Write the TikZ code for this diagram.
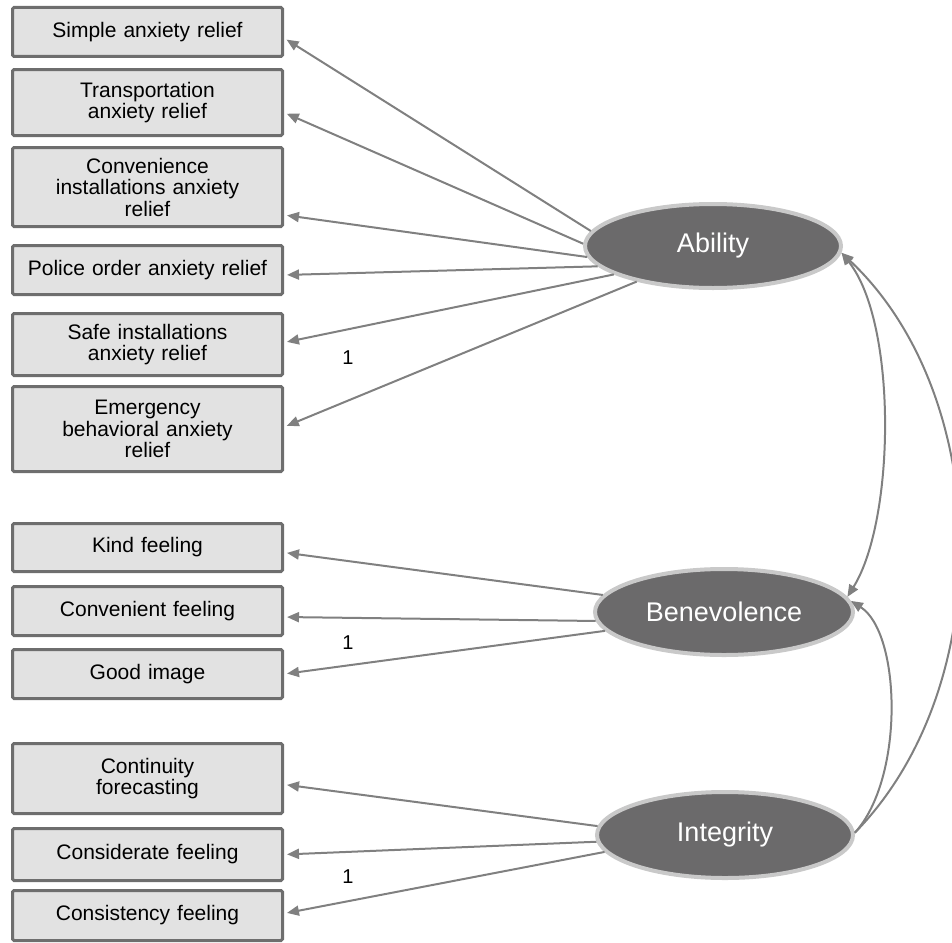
\documentclass[tikz,border=0pt]{standalone}
\usepackage{fontspec}
\setmainfont{Liberation Sans}
\usetikzlibrary{arrows.meta, positioning, shapes.geometric}
\definecolor{boxfill}{HTML}{E2E2E2}
\definecolor{boxline}{HTML}{6E6E6E}
\definecolor{factorfill}{HTML}{6B6A6B}
\definecolor{factorring}{HTML}{C9C9C9}
\definecolor{pathgray}{HTML}{808080}

\begin{document}
\begin{tikzpicture}[
    x=1pt, y=-1pt,
    >={Triangle[length=12pt, width=10pt]},
    itembox/.style={
        draw=boxline, line width=3pt, rounded corners=1.5pt,
        fill=boxfill, minimum width=270pt, text width=255pt,
        align=center, inner sep=0pt,
        font=\fontsize{21}{21.5}\selectfont
    },
    factor/.style={
        ellipse, draw=factorring, line width=4pt, fill=factorfill,
        minimum width=256pt, minimum height=84pt, inner sep=0pt,
        text=white, font=\fontsize{27}{30}\selectfont
    },
    loading/.style={->, line width=2pt, pathgray, shorten >=3pt},
    covar/.style={line width=2pt, pathgray},
    onelabel/.style={font=\fontsize{20}{22}\selectfont},
]
\useasboundingbox (0,0) rectangle (952,942);

% === Ability indicators ===
\node[itembox, minimum height=49pt] (simple) at (147.5,32) {Simple anxiety relief};
\node[itembox, minimum height=66pt, below=10pt of simple] (transport) {Transportation\\anxiety relief};
\node[itembox, minimum height=79pt, below=9pt of transport] (conven) {Convenience\\installations anxiety\\relief};
\node[itembox, minimum height=49pt, below=16pt of conven] (police) {Police order anxiety relief};
\node[itembox, minimum height=62pt, below=16pt of police] (safe) {Safe installations\\anxiety relief};
\node[itembox, minimum height=85pt, below=8pt of safe] (emerg) {Emergency\\behavioral anxiety\\relief};

% === Benevolence indicators ===
\node[itembox, minimum height=48pt, below=49pt of emerg] (kind) {Kind feeling};
\node[itembox, minimum height=49pt, below=12pt of kind] (convfeel) {Convenient feeling};
\node[itembox, minimum height=49pt, below=11pt of convfeel] (goodimg) {Good image};

% === Integrity indicators ===
\node[itembox, minimum height=70pt, below=42pt of goodimg] (contin) {Continuity\\forecasting};
\node[itembox, minimum height=52pt, below=12pt of contin] (consid) {Considerate feeling};
\node[itembox, minimum height=50pt, below=7pt of consid] (consist) {Consistency feeling};

% === Latent factors ===
\node[factor] (ability) at (713,246) {Ability};
\node[factor, minimum width=258pt, minimum height=86pt] (benev) at (724,612) {Benevolence};
\node[factor, minimum height=86pt] (integ) at (725,835) {Integrity};

% === Loadings ===
\draw[loading] (ability.173) -- ([yshift=-6pt]simple.east);
\draw[loading] (ability.179) -- ([yshift=-10pt]transport.east);
\draw[loading] (ability.185) -- ([yshift=-28pt]conven.east);
\draw[loading] (ability.190) -- ([yshift=-5pt]police.east);
\draw[loading] (ability.196) -- ([yshift=2pt]safe.east);
\draw[loading] (ability.205) -- ([yshift=2pt]emerg.east);

\draw[loading] (benev.172) -- ([yshift=-5pt]kind.east);
\draw[loading] (benev.184) -- ([yshift=-6pt]convfeel.east);
\draw[loading] (benev.189) -- (goodimg.east);

\draw[loading] (integ.176) -- ([yshift=-6pt]contin.east);
\draw[loading] (integ.183) -- (consid.east);
\draw[loading] (integ.188) -- ([yshift=2pt]consist.east);

% fixed loadings
\node[onelabel] (fixa) at (348,358) {1};
\node[onelabel] (fixb) at (348,643) {1};
\node[onelabel] (fixc) at (348,877) {1};

% === Covariances ===
\draw[covar, <->] (ability.-3) .. controls +(56,70) and +(48,-77) .. (benev.7);
\draw[covar, ->] (integ.1) .. controls +(145,-148) and +(151,142) .. (ability.-3);
\draw[covar, ->] (integ.1) .. controls +(50,-55) and +(50,32) .. (benev.5);

\end{tikzpicture}
\end{document}
